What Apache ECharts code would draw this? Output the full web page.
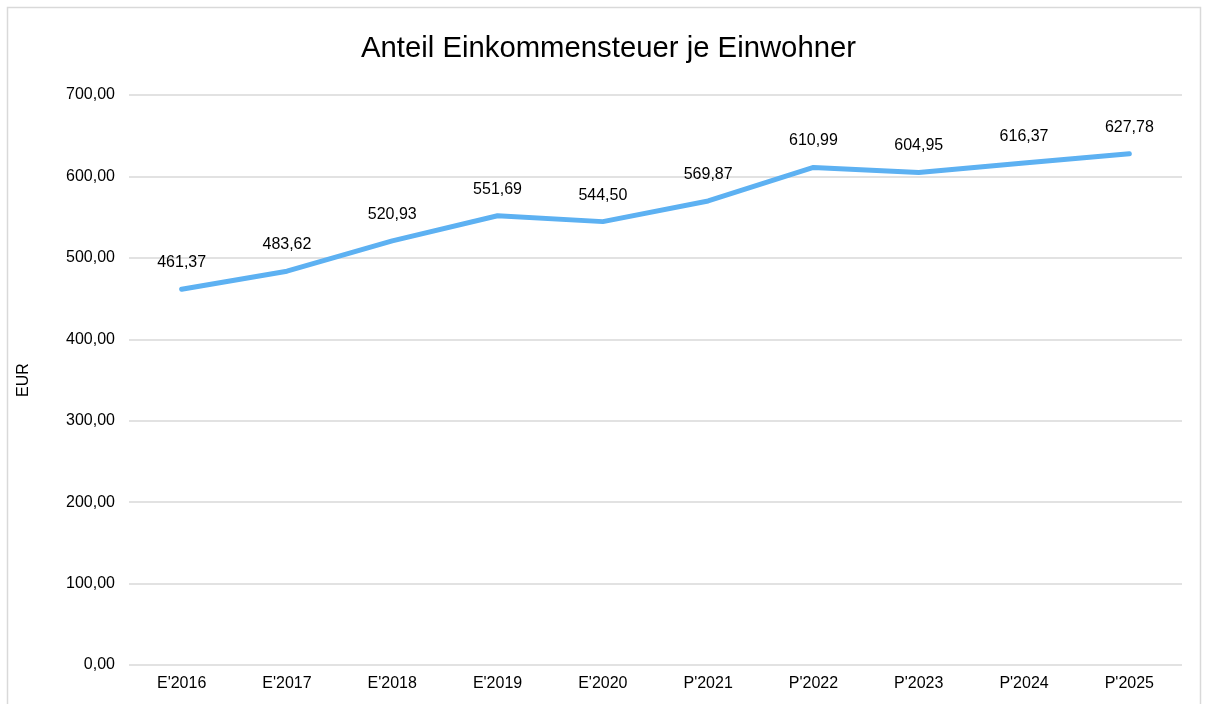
<!DOCTYPE html>
<html>
<head>
<meta charset="utf-8">
<script src="https://cdn.jsdelivr.net/npm/echarts@6/dist/echarts.min.js"></script>
<style>html,body{margin:0;padding:0;background:#fff;}#c{width:1205px;height:704px;}</style>
</head>
<body>
<div id="c"></div>
<script>
const categories = ["E'2016","E'2017","E'2018","E'2019","E'2020","P'2021","P'2022","P'2023","P'2024","P'2025"];
const values = [461.37, 483.62, 520.93, 551.69, 544.50, 569.87, 610.99, 604.95, 616.37, 627.78];
const chartTitle = "Anteil Einkommensteuer je Einwohner";
const yAxisName = "EUR";

const fmt = v => Number(v).toFixed(2).replace('.', ',');
const chart = echarts.init(document.getElementById('c'));
chart.setOption({
  animation: false,
  textStyle: { fontFamily: 'Liberation Sans, Arial, sans-serif' },
  graphic: [{
    type: 'rect', shape: { x: 7.5, y: 7.5, width: 1193, height: 720 },
    style: { fill: 'none', stroke: '#d9d9d9', lineWidth: 1.5 }, silent: true
  }],
  title: {
    text: chartTitle, left: 356, top: 29,
    textStyle: { fontSize: 29.3, fontWeight: 'normal', color: '#000', fontFamily: 'Liberation Sans, Arial, sans-serif' }
  },
  grid: { left: 129, right: 23, top: 95, bottom: 39 },
  xAxis: {
    type: 'category', data: categories, boundaryGap: true,
    axisLine: { show: false }, axisTick: { show: false },
    axisLabel: { color: '#000', fontSize: 16, margin: 11 }
  },
  yAxis: {
    type: 'value', min: 0, max: 700, interval: 100,
    name: yAxisName, nameLocation: 'middle', nameGap: 97, nameRotate: 90,
    nameTextStyle: { color: '#000', fontSize: 16 },
    axisLine: { show: false }, axisTick: { show: false },
    axisLabel: { color: '#000', fontSize: 16, margin: 14, formatter: v => fmt(v) },
    splitLine: { lineStyle: { color: '#d9d9d9', width: 1.5 } }
  },
  series: [{
    type: 'line', data: values, symbol: 'circle', symbolSize: 1, showSymbol: true,
    itemStyle: { color: 'rgba(0,0,0,0)' },
    lineStyle: { color: '#5DB1F2', width: 5, cap: 'round', join: 'round' },
    label: { show: true, position: 'top', distance: 18, color: '#000', fontSize: 16, formatter: p => fmt(p.value) }
  }]
});
</script>
</body>
</html>
